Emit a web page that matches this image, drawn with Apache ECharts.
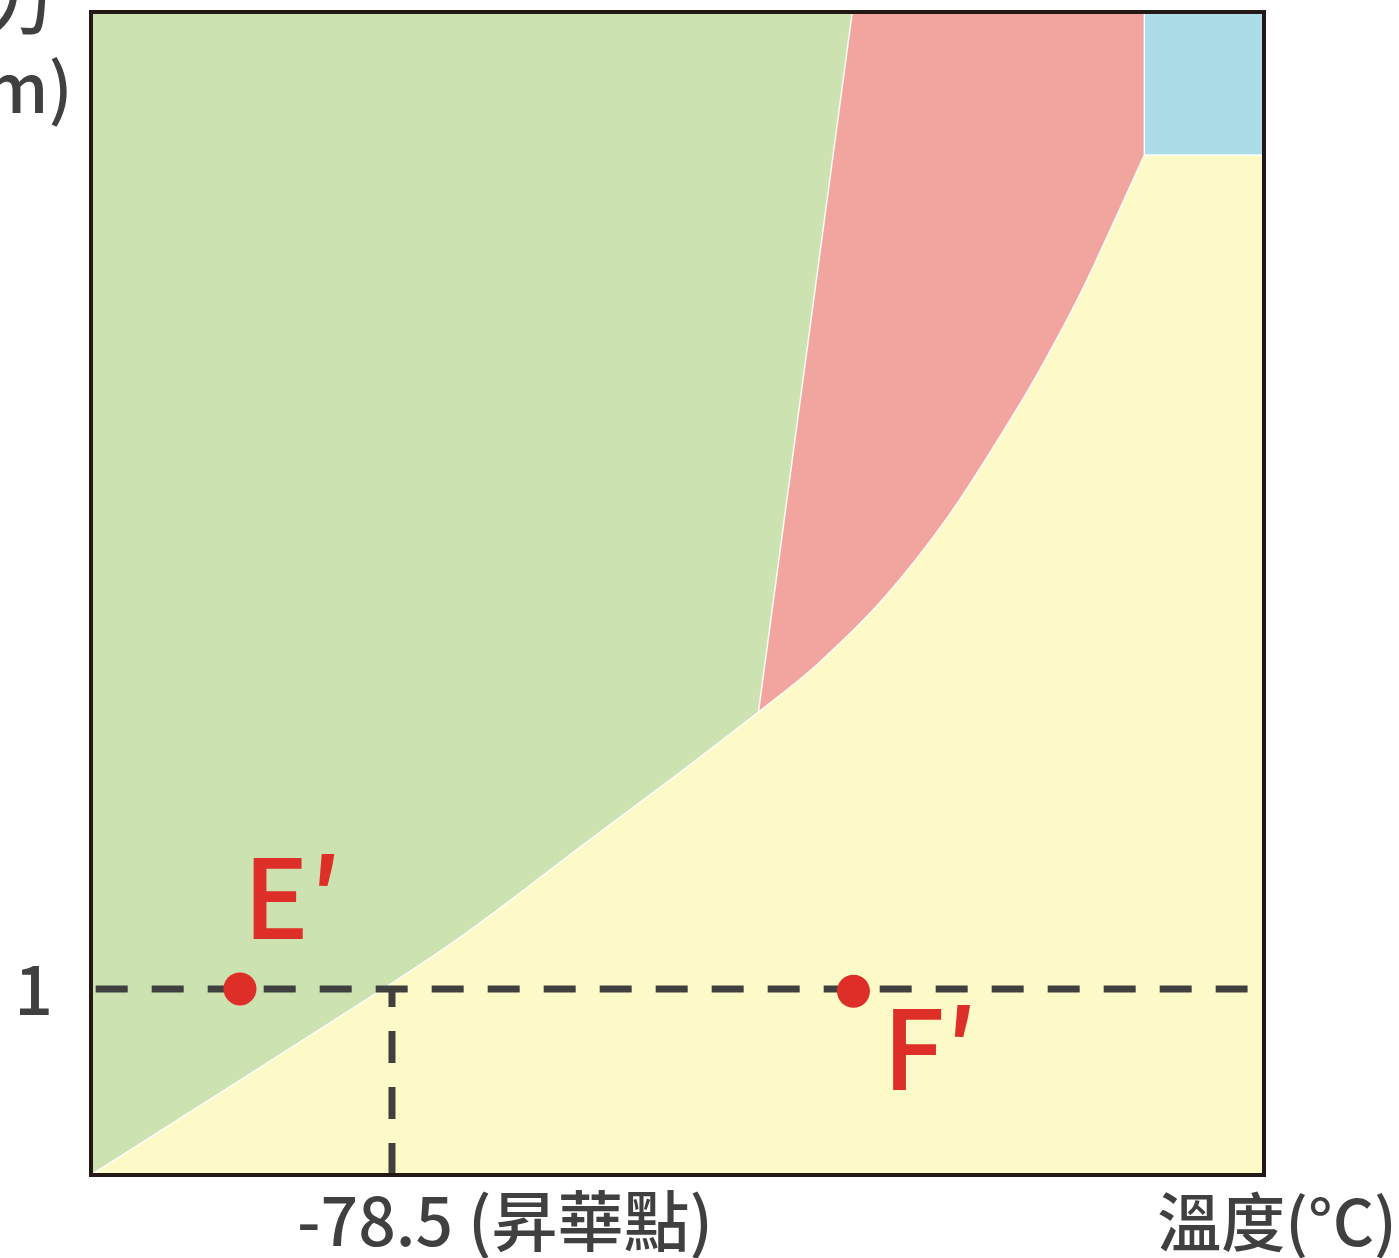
<!DOCTYPE html>
<html>
<head>
<meta charset="utf-8">
<style>
  html, body { margin: 0; padding: 0; background: #ffffff; }
  #chart { width: 1399px; height: 1258px; }
</style>
<script src="https://cdn.jsdelivr.net/npm/echarts@6/dist/echarts.min.js"></script>
</head>
<body>
<div id="chart"></div>
<script>
// ---- data (schematic units: x 0..100 temperature, y 0..100 pressure) ----
const xRange = [0, 100];
const yRange = [0, 100];
// solid / gas boundary (sublimation curve), from lower-left to triple point
const subCurve = [[0, 0], [24.9, 16.0], [33.2, 21.7], [41.7, 28.2], [50.2, 34.6], [56.9, 39.8]];
// liquid / gas boundary (vaporization curve), triple point to critical point
const vapCurve = [[56.9, 39.8], [61.9, 43.9], [67.5, 49.5], [73.2, 56.8], [78.9, 65.8], [81.8, 70.9], [84.6, 76.3], [87.5, 82.6], [89.8, 87.7]];
// solid / liquid boundary (melting line), triple point to top edge
const meltLine = [[56.9, 39.8], [64.9, 100]];
// reference lines
const oneAtm = 16.0;               // pressure 1 atm
const sublimationPoint = 25.66;    // -78.5 °C
const dashH = [[0.4, 16.0], [98.6, 16.0]];
const dashV = [[25.66, 0], [25.66, 16.0]];
// marked points
const pointNames = ['E′', 'F′'];
const pointValues = [[12.7, 16.0], [65.0, 15.8]];
// texts
const xTickLabel = '-78.5 (昇華點)';
const yTickLabel = '1';
const xName = '溫度(°C)';
const yName = '壓力\n(atm)';

// ---- styles ----
const FONT = '"Noto Sans CJK TC", "Noto Sans CJK SC", sans-serif';
const WEIGHT = 500;
const TEXT = '#404040';
const RED = '#dd2e27';
const C_SOLID = '#cce3b1';
const C_LIQUID = '#f2a59f';
const C_SUPER = '#acdce7';
const C_GAS = '#fdfac8';
const labelOffsets = [[3, -92], [29, 57]];

function crPath(pts, moveFirst) {
  let d = (moveFirst ? 'M' : 'L') + pts[0][0] + ',' + pts[0][1];
  for (let i = 0; i < pts.length - 1; i++) {
    const p0 = pts[i - 1] || pts[i], p1 = pts[i], p2 = pts[i + 1], p3 = pts[i + 2] || pts[i + 1];
    const c1 = [p1[0] + (p2[0] - p0[0]) / 6, p1[1] + (p2[1] - p0[1]) / 6];
    const c2 = [p2[0] - (p3[0] - p1[0]) / 6, p2[1] - (p3[1] - p1[1]) / 6];
    d += ' C' + c1[0] + ',' + c1[1] + ' ' + c2[0] + ',' + c2[1] + ' ' + p2[0] + ',' + p2[1];
  }
  return d;
}
function L(p) { return ' L' + p[0] + ',' + p[1]; }
function M(p) { return 'M' + p[0] + ',' + p[1]; }

function renderRegions(params, api) {
  const c = (p) => api.coord(p);
  const sub = subCurve.map(c);
  const vap = vapCurve.map(c);
  const triple = c(meltLine[0]);
  const meltTop = c(meltLine[1]);
  const crit = vap[vap.length - 1];
  const critV = vapCurve[vapCurve.length - 1];
  const critTop = c([critV[0], yRange[1]]);
  const rightCrit = c([xRange[1], critV[1]]);
  const topRight = c([xRange[1], yRange[1]]);
  const topLeft = c([xRange[0], yRange[1]]);
  const bottomRight = c([xRange[1], yRange[0]]);

  const gas = crPath(sub, true) + ' ' + crPath(vap, false) + L(rightCrit) + L(bottomRight) + ' Z';
  const solid = crPath(sub, true) + L(meltTop) + L(topLeft) + ' Z';
  const liquid = M(triple) + L(meltTop) + L(critTop) + L(crit) + ' ' + crPath(vap.slice().reverse(), false) + ' Z';
  const superc = M(crit) + L(rightCrit) + L(topRight) + L(critTop) + ' Z';
  const lines = crPath(sub, true) + ' ' + crPath(vap, true) + ' ' + M(triple) + L(meltTop) + ' ' + M(critTop) + L(crit) + L(rightCrit);

  const mk = (d, fill) => ({ type: 'path', shape: { pathData: d }, style: { fill: fill, stroke: null } });
  return {
    type: 'group',
    children: [
      mk(gas, C_GAS),
      mk(solid, C_SOLID),
      mk(liquid, C_LIQUID),
      mk(superc, C_SUPER),
      { type: 'path', shape: { pathData: lines }, style: { fill: null, stroke: 'rgba(255,255,255,0.9)', lineWidth: 1.5 } }
    ]
  };
}

const chart = echarts.init(document.getElementById('chart'), null, { renderer: 'canvas' });
const dashStyle = { color: TEXT, width: 7, type: [32, 24], cap: 'butt', opacity: 1 };

chart.setOption({
  animation: false,
  backgroundColor: '#ffffff',
  grid: {
    left: 91, right: 135, top: 12, bottom: 83,
    containLabel: false, outerBoundsMode: 'none',
    show: true, borderColor: '#231815', borderWidth: 4, backgroundColor: 'transparent', z: 10
  },
  xAxis: {
    type: 'value', min: xRange[0], max: xRange[1],
    axisLine: { show: false }, axisTick: { show: false }, splitLine: { show: false },
    axisLabel: {
      customValues: [sublimationPoint],
      formatter: () => xTickLabel,
      fontFamily: FONT, fontWeight: WEIGHT, fontSize: 66, color: TEXT, lineHeight: 68,
      margin: 12, padding: [0, 0, 0, 226]
    },
    name: xName, nameLocation: 'end', nameGap: 13,
    nameTextStyle: { fontFamily: FONT, fontWeight: WEIGHT, fontSize: 64, color: TEXT, lineHeight: 68, align: 'center', verticalAlign: 'top', padding: [13, 0, 0, 0] }
  },
  yAxis: {
    type: 'value', min: yRange[0], max: yRange[1],
    axisLine: { show: false }, axisTick: { show: false }, splitLine: { show: false },
    axisLabel: {
      customValues: [oneAtm],
      formatter: () => yTickLabel,
      fontFamily: FONT, fontWeight: WEIGHT, fontSize: 68, color: TEXT, margin: 38
    },
    name: yName, nameLocation: 'end', nameGap: 51,
    nameTextStyle: { fontFamily: FONT, fontWeight: WEIGHT, fontSize: 68, color: TEXT, lineHeight: 84, align: 'center', verticalAlign: 'top', padding: [0, 214, 0, 0] }
  },
  series: [
    {
      type: 'custom', renderItem: renderRegions, data: [[0, 0]], silent: true, z: 1
    },
    {
      type: 'line', data: dashH, symbol: 'none', lineStyle: dashStyle, silent: true, z: 3
    },
    {
      type: 'line', data: dashV, symbol: 'none', lineStyle: dashStyle, silent: true, z: 3
    },
    {
      type: 'scatter', symbolSize: 33, itemStyle: { color: RED, opacity: 1 }, z: 5,
      data: pointValues.map((v, i) => ({
        name: pointNames[i], value: v,
        label: { offset: labelOffsets[i] }
      })),
      label: {
        show: true, formatter: '{b}', position: 'inside', align: 'left', verticalAlign: 'middle',
        fontFamily: FONT, fontWeight: WEIGHT, fontSize: 110, color: RED, opacity: 1
      }
    }
  ]
});
</script>
</body>
</html>
